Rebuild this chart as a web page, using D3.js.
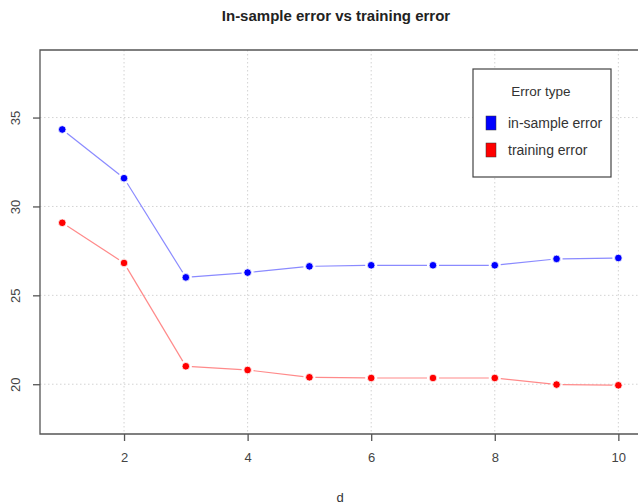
<!DOCTYPE html>
<html>
<head>
<meta charset="utf-8">
<script src="https://cdn.jsdelivr.net/npm/d3@7"></script>
<style>
  body { margin: 0; background: #fff; }
  svg { font-family: "Liberation Sans", Arial, sans-serif; }
</style>
</head>
<body>
<div id="chart"></div>
<script>
// Chart data
const dValues = [1, 2, 3, 4, 5, 6, 7, 8, 9, 10];
const inSampleError = [34.33, 31.59, 26.01, 26.28, 26.63, 26.69, 26.69, 26.69, 27.05, 27.10];
const trainingError = [29.08, 26.82, 21.01, 20.80, 20.39, 20.35, 20.35, 20.35, 19.98, 19.94];
const xTicks = [2, 4, 6, 8, 10];
const yTicks = [20, 25, 30, 35];
const seriesNames = ["in-sample error", "training error"];

function renderChart() {
    const width = 638, height = 504;
    const left = 40, top = 50, right = 640.6, bottom = 434;

    const svg = d3.select("#chart").append("svg")
        .attr("width", width)
        .attr("height", height);

    const x = d3.scaleLinear().domain([0.64, 10.36]).range([left, right]);
    const y = d3.scaleLinear().domain([17.2, 38.8]).range([bottom, top]);

    // Grid
    const grid = svg.append("g")
        .attr("stroke", "#d3d3d3")
        .attr("stroke-dasharray", "1.5,2.5")
        .attr("stroke-width", 1);
    grid.selectAll("line.v").data(xTicks).join("line")
        .attr("x1", d => x(d)).attr("x2", d => x(d))
        .attr("y1", top).attr("y2", bottom);
    grid.selectAll("line.h").data(yTicks).join("line")
        .attr("x1", left).attr("x2", right)
        .attr("y1", d => y(d)).attr("y2", d => y(d));

    // Series with gaps around points (type = "b")
    const series = [
        { name: seriesNames[0], values: inSampleError, line: "#8a8aff", point: "#0000ff" },
        { name: seriesNames[1], values: trainingError, line: "#ff8a8a", point: "#ff0000" }
    ];
    const gap = 6;
    series.forEach(s => {
        const pts = dValues.map((d, i) => [x(d), y(s.values[i])]);
        const segs = d3.pairs(pts);
        svg.append("g").selectAll("line").data(segs).join("line")
            .attr("x1", ([a, b]) => a[0] + (b[0] - a[0]) * gap / Math.hypot(b[0] - a[0], b[1] - a[1]))
            .attr("y1", ([a, b]) => a[1] + (b[1] - a[1]) * gap / Math.hypot(b[0] - a[0], b[1] - a[1]))
            .attr("x2", ([a, b]) => b[0] - (b[0] - a[0]) * gap / Math.hypot(b[0] - a[0], b[1] - a[1]))
            .attr("y2", ([a, b]) => b[1] - (b[1] - a[1]) * gap / Math.hypot(b[0] - a[0], b[1] - a[1]))
            .attr("stroke", s.line)
            .attr("stroke-width", 1.2);
        svg.append("g").selectAll("circle").data(pts).join("circle")
            .attr("cx", d => d[0]).attr("cy", d => d[1])
            .attr("r", 3.8)
            .attr("fill", s.point)
            .attr("stroke", "#fff")
            .attr("stroke-width", 0.8);
    });

    // Box (right side runs off the image)
    svg.append("path")
        .attr("d", `M${right},${top}H${left}V${bottom}H${right}`)
        .attr("fill", "none")
        .attr("stroke", "#555")
        .attr("stroke-width", 1.3);

    // Axes
    const xAxis = svg.append("g")
        .attr("transform", `translate(0,${bottom})`)
        .call(d3.axisBottom(x).tickValues(xTicks).tickSize(7).tickPadding(12));
    xAxis.select(".domain").remove();
    xAxis.selectAll("line").attr("stroke", "#555").attr("stroke-width", 1.3);
    xAxis.selectAll("text").attr("fill", "#444").style("font-size", "13px");

    const yAxis = svg.append("g")
        .attr("transform", `translate(${left},0)`)
        .call(d3.axisLeft(y).tickValues(yTicks).tickSize(7));
    yAxis.select(".domain").remove();
    yAxis.selectAll("line").attr("stroke", "#555").attr("stroke-width", 1.3);
    yAxis.selectAll("text")
        .attr("fill", "#444")
        .style("font-size", "13px")
        .attr("x", null).attr("dy", null)
        .attr("text-anchor", "middle")
        .attr("transform", "translate(-25,0) rotate(-90)")
        .attr("y", 4.5);

    // Title and axis label
    svg.append("text")
        .attr("x", 336).attr("y", 21)
        .attr("text-anchor", "middle")
        .style("font-size", "15px")
        .style("font-weight", "bold")
        .attr("fill", "#222")
        .text("In-sample error vs training error");
    svg.append("text")
        .attr("x", 340).attr("y", 502)
        .attr("text-anchor", "middle")
        .style("font-size", "13px")
        .attr("fill", "#333")
        .text("d");

    // Legend
    const legend = svg.append("g").attr("transform", "translate(473,69)");
    legend.append("rect")
        .attr("width", 138).attr("height", 108)
        .attr("fill", "#fff")
        .attr("stroke", "#444")
        .attr("stroke-width", 1.2);
    legend.append("text")
        .attr("x", 68).attr("y", 27)
        .attr("text-anchor", "middle")
        .style("font-size", "13.5px")
        .attr("fill", "#333")
        .text("Error type");
    const item = legend.selectAll("g.item").data(series).join("g")
        .attr("transform", (d, i) => `translate(0,${47 + i * 27})`);
    item.append("rect")
        .attr("x", 13).attr("y", 0)
        .attr("width", 10).attr("height", 14)
        .attr("fill", d => d.point)
        .attr("stroke", "#333")
        .attr("stroke-width", 0.5);
    item.append("text")
        .attr("x", 35).attr("y", 12)
        .style("font-size", "14px")
        .attr("fill", "#333")
        .text(d => d.name);
}

renderChart();
</script>
</body>
</html>
